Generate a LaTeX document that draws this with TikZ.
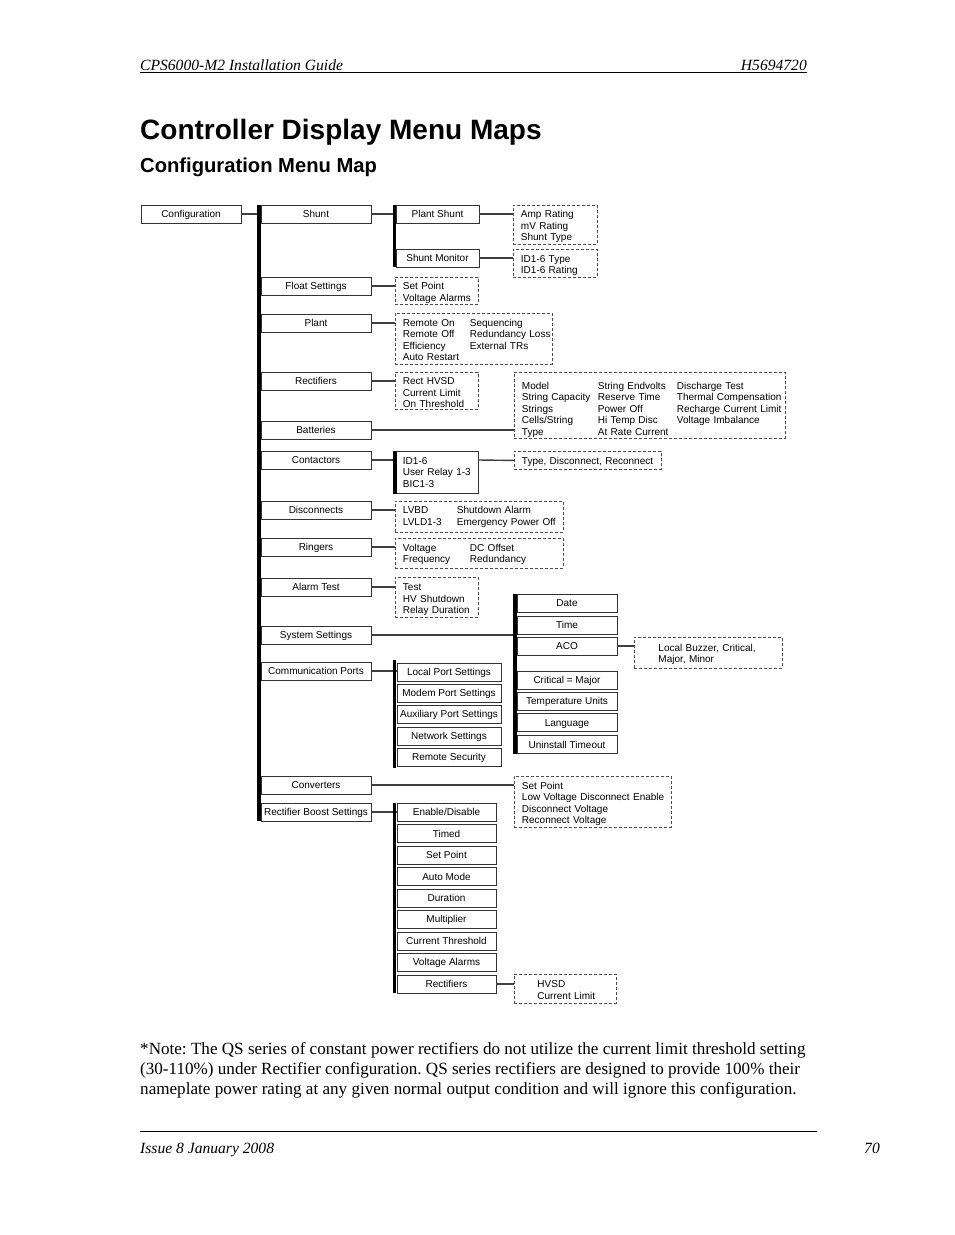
\documentclass[tikz,border=0pt]{standalone}
\usepackage{fontspec}
\setmainfont{Liberation Serif}
\setsansfont{Liberation Sans}
\usetikzlibrary{positioning,calc}
\frenchspacing

\newcommand{\menufont}{\sffamily\fontsize{10}{11.5}\selectfont}
\newcommand{\pagefont}{\rmfamily\itshape\fontsize{15.6}{18}\selectfont}
\newcommand{\notefont}{\rmfamily\fontsize{17.1}{20}\selectfont}
% rows of an option list, set a little lower in their box
\newcommand{\optrows}[3][2pt]{\raisebox{-#1}[\height][\depth]{\begin{tabular}{@{}#2@{}}#3\end{tabular}}}

\begin{document}
\begin{tikzpicture}[x=1pt, y=-1pt,
    menu/.style={draw=black!80, line width=0.9pt, font=\menufont},
    single/.style={menu, minimum height=18pt, inner sep=0pt, text height=7.2pt, text depth=0pt},
    rootbox/.style={single, minimum width=100pt},
    topic/.style={single, minimum width=110pt},
    shuntbox/.style={single, minimum width=83pt},
    sysbox/.style={single, minimum width=100pt},
    portbox/.style={single, minimum width=104pt},
    boostbox/.style={single, minimum width=99pt},
    opts/.style={draw=black!70, line width=0.9pt, dash pattern=on 3pt off 2pt, anchor=north west,
        align=left, inner xsep=7.5pt, inner ysep=0pt, font=\menufont},
    link/.style={draw=black!75, line width=1.4pt},
    bar/.style={draw=black, line width=3.5pt}
]
    \useasboundingbox (0,0) rectangle (954,1235);

    % page header, title and note
    \node[anchor=base west, font=\pagefont, inner sep=0pt] (guide) at (140,70) {CPS6000-M2 Installation Guide};
    \node[anchor=base east, font=\pagefont, inner sep=0pt] (docno) at (807,70) {H5694720};
    \draw[line width=0.8pt] (140,72.5) -- (807,72.5);
    \node[anchor=base west, inner sep=0pt, font=\sffamily\bfseries\fontsize{28}{32}\selectfont] (title) at (140,139) {Controller Display Menu Maps};
    \node[anchor=base west, inner sep=0pt, font=\sffamily\bfseries\fontsize{20.2}{24}\selectfont] (subtitle) at (140,172) {Configuration Menu Map};

    \node[anchor=base west, inner sep=0pt, font=\notefont] (note1) at (140,1054) {*Note: The QS series of constant power rectifiers do not utilize the current limit threshold setting};
    \node[anchor=base west, inner sep=0pt, font=\notefont] (note2) at (140,1074) {(30-110\%) under Rectifier configuration. QS series rectifiers are designed to provide 100\% their};
    \node[anchor=base west, inner sep=0pt, font=\notefont] (note3) at (140,1094) {nameplate power rating at any given normal output condition and will ignore this configuration.};

    \draw[line width=0.8pt] (140,1131) -- (817,1131);
    \node[anchor=base west, font=\pagefont, inner sep=0pt] (issue) at (140,1153) {Issue 8 January 2008};
    \node[anchor=base east, font=\pagefont, inner sep=0pt] (pageno) at (880,1153) {70};

    % menu levels
    \node[rootbox] (config) at (191,214) {Configuration};

    \node[topic] (shunt) at (316,214) {Shunt};
    \node[topic] (float) at (316,286) {Float Settings};
    \node[topic] (plant) at (316,323) {Plant};
    \node[topic] (rect) at (316,381) {Rectifiers};
    \node[topic] (batt) at (316,430) {Batteries};
    \node[topic] (contact) at (316,460) {Contactors};
    \node[topic] (disc) at (316,510) {Disconnects};
    \node[topic] (ring) at (316,547) {Ringers};
    \node[topic] (alarm) at (316,587) {Alarm Test};
    \node[topic] (sys) at (316,635) {System Settings};
    \node[topic] (comm) at (316,671) {Communication Ports};
    \node[topic] (conv) at (316,785) {Converters};
    \node[topic] (rboost) at (316,812) {Rectifier Boost Settings};

    \node[shuntbox] (pshunt) at (437.5,214) {Plant Shunt};
    \node[shuntbox] (smon) at (437.5,258) {Shunt Monitor};

    \node[sysbox] (date) at (567,603) {Date};
    \node[sysbox] (time) at (567,625) {Time};
    \node[sysbox] (aco) at (567,646) {ACO};
    \node[sysbox] (critmaj) at (567,680) {Critical = Major};
    \node[sysbox] (tempu) at (567,701) {Temperature Units};
    \node[sysbox] (lang) at (567,722.5) {Language};
    \node[sysbox] (untime) at (567,744.5) {Uninstall Timeout};

    \node[portbox] (lport) at (449,672) {Local Port Settings};
    \node[portbox] (mport) at (449,693) {Modem Port Settings};
    \node[portbox] (aport) at (449,714) {Auxiliary Port Settings};
    \node[portbox] (netset) at (449,736) {Network Settings};
    \node[portbox] (rsec) at (449,757) {Remote Security};

    \node[boostbox] (enable) at (446.5,812) {Enable/Disable};
    \node[boostbox] (timed) at (446.5,833.5) {Timed};
    \node[boostbox] (setpt) at (446.5,855) {Set Point};
    \node[boostbox] (automode) at (446.5,876.5) {Auto Mode};
    \node[boostbox] (duration) at (446.5,898) {Duration};
    \node[boostbox] (mult) at (446.5,919) {Multiplier};
    \node[boostbox] (curth) at (446.5,941) {Current Threshold};
    \node[boostbox] (valarm) at (446.5,962) {Voltage Alarms};
    \node[boostbox] (brect) at (446.5,984) {Rectifiers};

    \node[menu, anchor=north west, align=left, text width=68pt, inner xsep=7.5pt, inner ysep=0pt, minimum height=42pt] (ctbox) at (395,451) {%
        \optrows[1pt]{l}{ID1-6\\ User Relay 1-3\\ BIC1-3}};

    % option lists
    \node[opts, text width=69pt, minimum height=39pt] (ampopt) at (513,205) {%
        \optrows{l}{Amp Rating\\ mV Rating\\ Shunt Type}};
    \node[opts, text width=69pt, minimum height=28pt] (idopt) at (513,249) {%
        \optrows{l}{ID1-6 Type\\ ID1-6 Rating}};
    \node[opts, text width=68pt, minimum height=27pt] (floatopt) at (395,277) {%
        \optrows{l}{Set Point\\ Voltage Alarms}};
    \node[opts, text width=142pt, minimum height=51pt] (plantopt) at (395,313) {%
        \optrows{p{67pt}@{}l}{Remote On & Sequencing\\ Remote Off & Redundancy Loss\\ Efficiency & External TRs\\ Auto Restart &}};
    \node[opts, text width=68pt, minimum height=37pt] (rectopt) at (395,372) {%
        \optrows[3pt]{l}{Rect HVSD\\ Current Limit\\ On Threshold}};
    \node[opts, text width=256pt, minimum height=66pt] (battopt) at (514,372) {%
        \optrows[4.5pt]{p{76pt}@{}p{79pt}@{}l}{%
        Model & String Endvolts & Discharge Test\\
        String Capacity & Reserve Time & Thermal Compensation\\
        Strings & Power Off & Recharge Current Limit\\
        Cells/String & Hi Temp Disc & Voltage Imbalance\\
        Type & At Rate Current &}};
    \node[opts, text width=132pt, minimum height=18pt] (typeopt) at (514,451) {%
        \optrows{l}{Type, Disconnect, Reconnect}};
    \node[opts, text width=153pt, minimum height=31pt] (discopt) at (395,501) {%
        \optrows[0pt]{p{54pt}@{}l}{LVBD & Shutdown Alarm\\ LVLD1-3 & Emergency Power Off}};
    \node[opts, text width=153pt, minimum height=30pt] (ringopt) at (395,538) {%
        \optrows[1pt]{p{67pt}@{}l}{Voltage & DC Offset\\ Frequency & Redundancy}};
    \node[opts, text width=68pt, minimum height=40pt] (alarmopt) at (395,577) {%
        \optrows[2.5pt]{l}{Test\\ HV Shutdown\\ Relay Duration}};
    \node[opts, text width=133pt, minimum height=31pt] (acoopt) at (634,637) {%
        \hspace*{16.5pt}\optrows[1.5pt]{l}{Local Buzzer, Critical,\\ Major, Minor}};
    \node[opts, text width=142pt, minimum height=51pt] (convopt) at (514,776) {%
        \optrows{l}{Set Point\\ Low Voltage Disconnect Enable\\ Disconnect Voltage\\ Reconnect Voltage}};
    \node[opts, text width=87pt, minimum height=29pt] (hvsdopt) at (514,974) {%
        \hspace*{15.5pt}\optrows{l}{HVSD\\ Current Limit}};

    % connectors
    \draw[link] (config) -- (shunt);
    \draw[link] (shunt) -- (pshunt);
    \draw[link] (pshunt.east) -- (pshunt.east -| ampopt.west);
    \draw[link] (smon.east) -- (smon.east -| idopt.west);
    \draw[link] (float.east) -- (float.east -| floatopt.west);
    \draw[link] (plant.east) -- (plant.east -| plantopt.west);
    \draw[link] (rect.east) -- (rect.east -| rectopt.west);
    \draw[link] (batt.east) -- (batt.east -| battopt.west);
    \draw[link] (contact.east) -- (contact.east -| ctbox.west);
    \draw[link] (ctbox.east |- contact.east) -- (typeopt.west);
    \draw[link] (disc.east) -- (disc.east -| discopt.west);
    \draw[link] (ring.east) -- (ring.east -| ringopt.west);
    \draw[link] (alarm.east) -- (alarm.east -| alarmopt.west);
    \draw[link] (sys.east) -- (sys.east -| date.west);
    \draw[link] (aco.east) -- (aco.east -| acoopt.west);
    \draw[link] (comm.east) -- (comm.east -| lport.west);
    \draw[link] (conv.east) -- (conv.east -| convopt.west);
    \draw[link] (rboost) -- (enable);
    \draw[link] (brect.east) -- (brect.east -| hvsdopt.west);

    % branch bars
    \draw[bar] ([xshift=-1.5pt]shunt.north west) -- ([xshift=-1.5pt]rboost.south west);
    \draw[bar] ([xshift=-1pt]pshunt.north west) -- ([xshift=-1pt]smon.south west);
    \draw[bar] ([xshift=-1.5pt]date.north west) -- ([xshift=-1.5pt]untime.south west);
    \draw[bar] ([xshift=-2pt,yshift=3pt]lport.north west) -- ([xshift=-2pt,yshift=-2pt]rsec.south west);
    \draw[bar] ([xshift=-2pt]enable.north west) -- ([xshift=-2pt]brect.south west);
    \draw[bar] (ctbox.north west) -- (ctbox.south west);
\end{tikzpicture}
\end{document}
